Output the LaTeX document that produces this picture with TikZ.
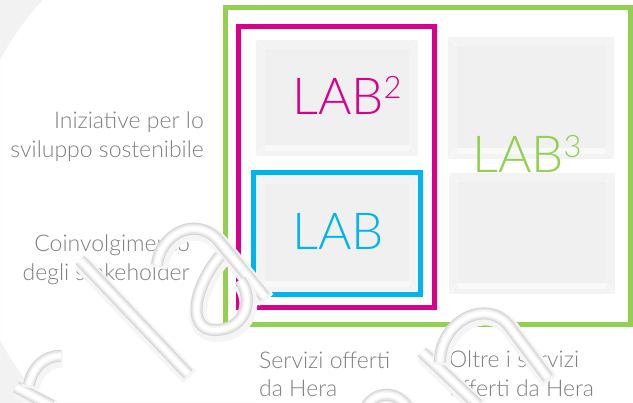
\documentclass[tikz,border=0pt]{standalone}
\usepackage{fontspec}
\IfFontExistsTF{Lato Light}{\newfontfamily\lightfont{Lato Light}}{\newfontfamily\lightfont{Open Sans}}
\definecolor{bggrey}{HTML}{F2F2F2}
\definecolor{labmag}{HTML}{DA008C}
\definecolor{labblue}{HTML}{00B4F0}
\definecolor{labgreen}{HTML}{92D050}
\definecolor{lblgrey}{HTML}{808080}
\definecolor{tileout}{HTML}{F3F3F3}
\definecolor{tilein}{HTML}{F0F0F0}
\definecolor{tileline}{HTML}{F8F8F8}
\tikzset{
  frame/.style={line width=5pt},
  tile/.style={fill=tileout, draw=none, inner sep=0pt, minimum width=#1,
    path picture={
      \fill[tilein] ([xshift=9pt,yshift=-9pt]path picture bounding box.north west) rectangle ([xshift=-9pt,yshift=11pt]path picture bounding box.south east);
      \fill[white, opacity=0.5] ([xshift=9pt,yshift=11pt]path picture bounding box.south west) rectangle ([xshift=-9pt,yshift=5pt]path picture bounding box.south east);
      \draw[tileline, line width=1pt] (path picture bounding box.north west) -- ++(9pt,-9pt)
        (path picture bounding box.north east) -- ++(-9pt,-9pt)
        (path picture bounding box.south west) -- ++(9pt,11pt)
        (path picture bounding box.south east) -- ++(-9pt,11pt);
    }},
  lbl/.style={inner sep=0pt, text=lblgrey, font=\lightfont\fontsize{23}{27}\selectfont},
  labtext/.style={inner sep=0pt, anchor=base west, font=\lightfont\fontsize{51}{51}\selectfont},
  supr/.style={},
  wm/.style={line width=12pt, draw=black!17, line cap=butt,
    preaction={draw=black!4, line width=18pt, transform canvas={xshift=1.5pt,yshift=-3pt}},
    postaction={draw=black!10, line width=10pt},
    postaction={draw=black!4, line width=7pt},
    postaction={draw=white, line width=4pt}}
}
\begin{document}
\begin{tikzpicture}[x=1pt,y=-1pt]
\useasboundingbox (0,0) rectangle (633,403);
\fill[white] (0,0) rectangle (633,403);
\begin{scope}
\clip (0,0) rectangle (262,403);
\fill[bggrey, even odd rule] (0,0) rectangle (262,403) (262,200) circle[radius=297pt];
\end{scope}

% tiles
\node[tile=162pt, minimum height=116pt] (t1) at (337,98) {};
\node[tile=162pt, minimum height=117pt] (t2) at (337,233.5) {};
\node[tile=166pt, minimum height=122pt] (t3) at (531,98) {};
\node[tile=166pt, minimum height=121pt] (t4) at (532,233.5) {};

% frames
\draw[frame, labgreen] (225.5,7.5) rectangle (630,324.5);
\draw[frame, labmag] (238.5,26.5) rectangle (434.5,307.5);
\draw[frame, labblue] (253.5,172.5) rectangle (420.5,294.5);

% LAB texts
\node[labtext, text=labmag] (lab2) at (292,115) {LAB\raisebox{16pt}{\fontsize{31}{31}\selectfont 2}};
\node[labtext, text=labblue] (lab1) at (292,250) {LAB};
\node[labtext, text=labgreen] (lab3) at (472,173) {LAB\raisebox{15pt}{\fontsize{31}{31}\selectfont 3}};

% labels
\node[lbl, anchor=base east] (in1) at (204,129) {Iniziative per lo};
\node[lbl, anchor=base east] (in2) at (204,158) {sviluppo sostenibile};
\node[lbl, anchor=base east] (co1) at (190,252) {Coinvolgimento};
\node[lbl, anchor=base east] (co2) at (190,281) {degli stakeholder};
\node[lbl, anchor=base west] (se1) at (259,369) {Servizi offerti};
\node[lbl, anchor=base west] (se2) at (259,397) {da Hera};
\node[lbl, anchor=base west] (ol1) at (449,368) {Oltre i servizi};
\node[lbl, anchor=base west] (ol2) at (449,397) {offerti da Hera};

% watermark strokes
\draw[wm] (16,387) -- (52,406);
\draw[wm] (29,385) .. controls (32,368) and (45,355) .. (61,356);
\draw[wm] (80,260) -- (188,374);
\draw[wm] (157,265) .. controls (160,235) and (195,215) .. (218,240) -- (265,297);
\draw[wm] (220,256) .. controls (195,285) and (185,330) .. (215,330) .. controls (245,330) and (255,300) .. (240,280);
\draw[wm] (422,352) -- (478,405);
\draw[wm] (440,362) .. controls (440,320) and (490,295) .. (512,330) -- (548,378);
\draw[wm] (364,412) .. controls (372,389) and (400,389) .. (410,412);
\end{tikzpicture}
\end{document}
